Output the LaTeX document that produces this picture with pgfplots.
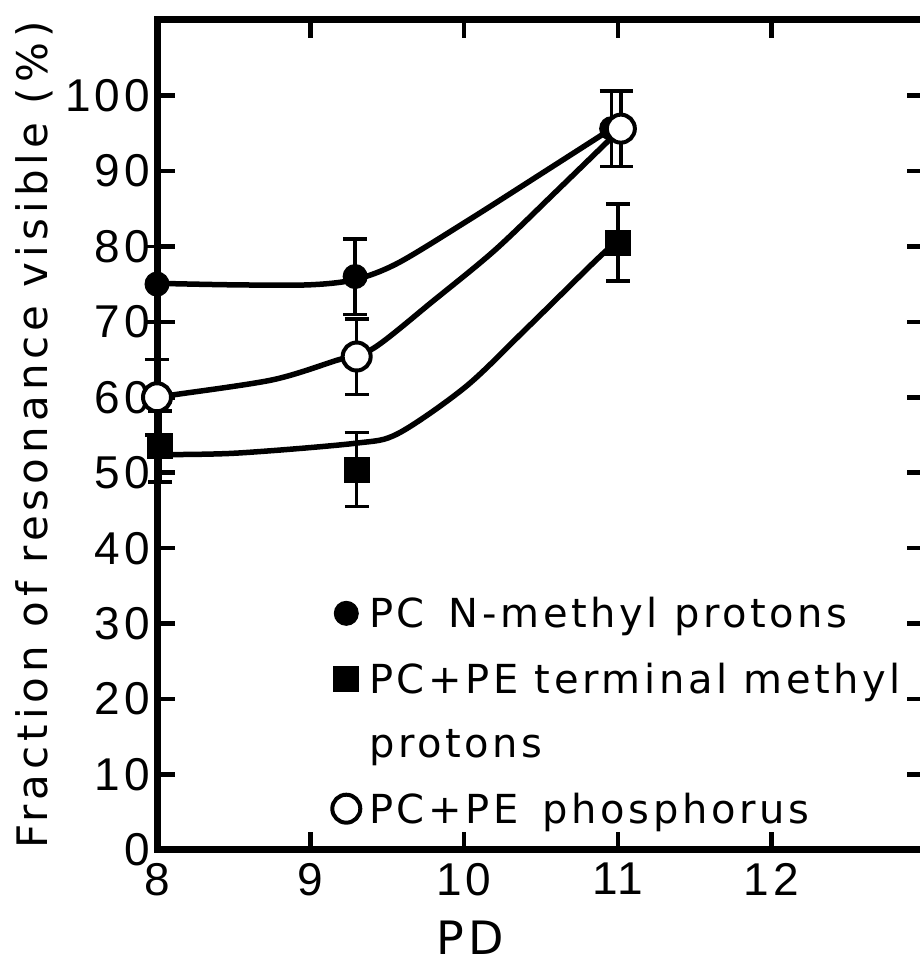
\documentclass[border=0pt]{standalone}
\usepackage{pgfplots}
\pgfplotsset{compat=1.18}
\usepackage{fontspec}
\setmainfont{DejaVu Sans}[LetterSpace=9]
\newfontfamily\labfont{DejaVu Sans}[LetterSpace=12]
\newfontfamily\tickfont{Liberation Sans}[LetterSpace=8]

\begin{document}
\begin{tikzpicture}
\useasboundingbox (0,0) rectangle (920pt,964pt);
\begin{axis}[
  at={(157pt,114pt)}, anchor=south west,
  width=768pt, height=830pt, scale only axis,
  xmin=8, xmax=13, ymin=0, ymax=110,
  xtick={8,9,10,11,12}, ytick={0,10,...,100},
  tick align=inside, major tick length=18pt,
  tick style={line width=4.5pt, black},
  clip=false,
  /pgf/number format/assume math mode=true,
  tick label style={font=\tickfont\fontsize{46}{46}\selectfont, inner sep=1pt},
  xticklabel style={yshift=-12pt},
  yticklabel style={xshift=-6pt},
  xlabel={PD}, ylabel={Fraction of resonance visible (\%)},
  xlabel style={font=\fontsize{46}{46}\selectfont, at={(axis description cs:0.408,-0.106)}, anchor=center},
  ylabel style={font=\labfont\fontsize{42}{42}\selectfont, at={(axis description cs:-0.16,0.5)}, anchor=center},
  legend cell align=left,
  legend style={at={(axis description cs:0.228,0.307)}, anchor=north west,
    draw=none, fill=none, font=\fontsize{40}{40}\selectfont,
    row sep=30pt, column sep=7pt, inner sep=0pt},
  error bars/error bar style={line width=3.5pt},
  error bars/error mark options={rotate=90, mark size=12pt, line width=3.5pt},
]
% frame
\draw[line width=7pt, black] (rel axis cs:0,0) -- (rel axis cs:1,0) -- (rel axis cs:1,1) -- (rel axis cs:0,1) -- cycle;
% fitted curves
\addplot[forget plot, line width=5.5pt, smooth, tension=0.5] coordinates {
 (8,75.1) (8.5,74.9) (8.99,74.9) (9.29,75.6) (9.57,77.8) (10.03,83.5) (10.5,89.6) (10.96,95.6)};
\addplot[forget plot, line width=5.5pt, smooth, tension=0.5] coordinates {
 (8,60) (8.1,60.3) (8.75,62.3) (9.17,64.9) (9.41,66.5) (9.8,72.8) (10.2,79.5) (10.6,87.3) (11.02,95.6)};
\addplot[forget plot, line width=5.5pt, smooth, tension=0.5] coordinates {
 (8.02,52.4) (8.52,52.6) (9.29,53.9) (9.57,55.2) (10.01,61.4) (10.4,69) (10.85,78) (11.0,80.8)};
% data
\addplot[only marks, mark=*, mark size=12pt, black, line width=1pt,
  error bars/.cd, y dir=both, y explicit] coordinates {
 (8,75) +- (0,5) (9.29,76) +- (0,5) (10.96,95.6) +- (0,5)};
\addlegendentry{PC\hspace{0.6em}N-methyl protons}
\addplot[only marks, mark=square*, mark size=12.5pt, black, line width=1pt,
  error bars/.cd, y dir=both, y explicit] coordinates {
 (8.02,53.5) +- (0,4.7) (9.3,50.4) +- (0,4.9) (11,80.5) +- (0,5.1)};
\addlegendentry{PC+PE terminal methyl}
\addlegendimage{empty legend}
\addlegendentry{protons}
\addplot[only marks, mark=*, mark size=14pt, black, line width=4pt,
  mark options={fill=white},
  error bars/.cd, y dir=both, y explicit] coordinates {
 (8,60) +- (0,5) (9.3,65.4) +- (0,5) (11.02,95.6) +- (0,5)};
\addlegendentry{PC+PE\hspace{0.6em}phosphorus}
\end{axis}
\end{tikzpicture}
\end{document}
